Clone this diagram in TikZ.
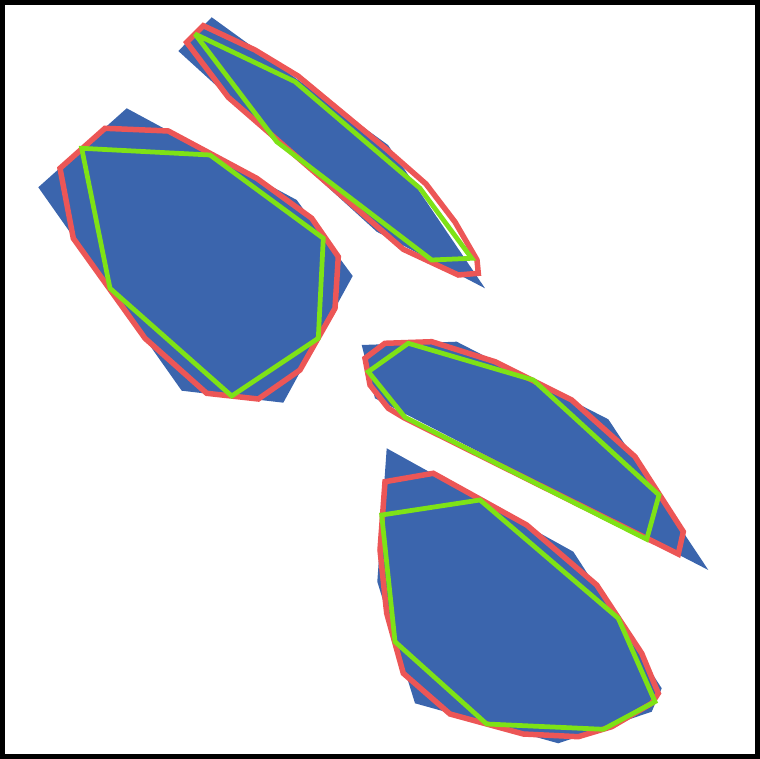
\documentclass[tikz,border=0pt]{standalone}
\definecolor{blobblue}{RGB}{59,101,173}
\definecolor{hullred}{RGB}{236,86,86}
\definecolor{hullgreen}{RGB}{126,226,22}
\begin{document}
\begin{tikzpicture}[x=0.02cm,y=-0.02cm,
  blob/.style={fill=blobblue},
  outer/.style={draw=hullred,line width=0.11cm,line join=miter,miter limit=3},
  inner/.style={draw=hullgreen,line width=0.095cm,line join=miter,miter limit=3}]
\useasboundingbox (0,0) rectangle (760,759);
\draw[line width=0.1cm] (2.5,2.5) rectangle (757.5,756.5);
% blue regions
\fill[blob] (211.7,17.3)--(178.3,51)--(376.7,231.7)--(485,288.3)--(388,145)--cycle;
\fill[blob] (126.7,108.3)--(38.3,187.3)--(181.7,390.7)--(283.3,402.7)--(352.7,276)--(296.7,200)--cycle;
\fill[blob] (361.7,345)--(456.7,341.7)--(608.3,419.3)--(708.3,570)--(375,398.3)--cycle;
\fill[blob] (386.7,448.3)--(573.3,551.7)--(661.7,688.3)--(651.7,711.7)--(558.3,743.3)--(415,703.3)--(377.3,581.7)--cycle;
% red outlines
\draw[outer] (203.3,25.7)--(186.7,42.3)--(228.3,97.3)--(403.3,249.3)--(458.3,275)--(478.3,273.3)
  --(477,260)--(455,222)--(426,184)--(385,148)--(298,76)--(255,50)--cycle;
\draw[outer] (105,128.3)--(168.3,131)--(256.7,178.3)--(311.7,218.3)--(338.3,256.7)--(335,308.3)
  --(300,370)--(258.3,399)--(206.7,393.3)--(145,338.3)--(73.3,238.3)--(60,168.3)--cycle;
\draw[outer] (385,343.3)--(431.7,341.7)--(495,361.7)--(571.7,400)--(635,456.7)--(683.3,531.7)
  --(678.3,554)--(405,418.3)--(388.3,408.3)--(370,385)--(365,358.3)--cycle;
\draw[outer] (385,481.7)--(433.3,473.3)--(526.7,525)--(596.7,585)--(641.7,653.3)--(658.3,693.3)
  --(651.7,703.3)--(611.7,726.7)--(578.3,736.7)--(523.3,734)--(450,714)--(403.3,673.3)
  --(386.7,613.3)--(380,550)--cycle;
% green outlines
\draw[inner] (195,34)--(295,81.7)--(420,188.3)--(471.7,258.3)--(431.7,260)--(276.7,141.7)--cycle;
\draw[inner] (81.7,148.3)--(210,155)--(323.3,238.3)--(318.3,338.3)--(231.7,396)--(110,288.3)--cycle;
\draw[inner] (408.3,343.3)--(533.3,380)--(659,495)--(646.7,539.3)--(405,417.3)--(368.3,371.7)--cycle;
\draw[inner] (381.7,515)--(480,500)--(618.3,618.3)--(655,701.7)--(603.3,729.3)--(486.7,724)--(395,641.7)--cycle;
\end{tikzpicture}
\end{document}
